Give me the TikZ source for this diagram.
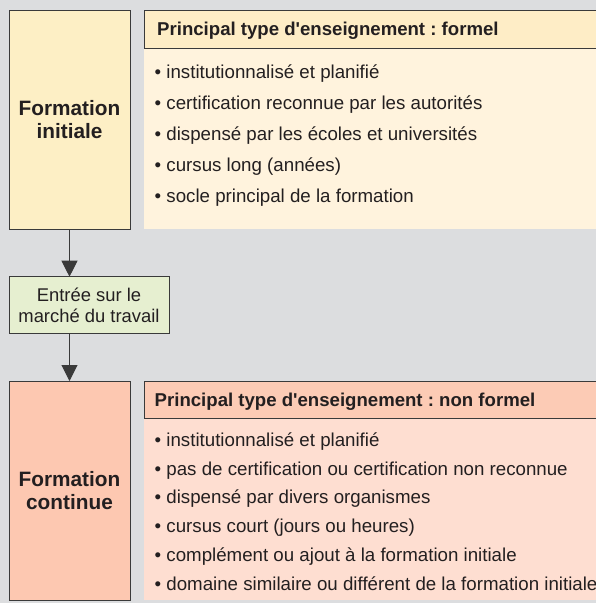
\documentclass[tikz,border=0pt]{standalone}
\usepackage{fontspec}
\setmainfont{Liberation Sans}
\usetikzlibrary{arrows.meta}
\frenchspacing
\definecolor{bg}{HTML}{DCDDDF}
\definecolor{edge}{HTML}{3A3A3A}
\definecolor{txt}{HTML}{231F20}
\definecolor{yleft}{HTML}{FDEFC5}
\definecolor{yhead}{HTML}{FEEDC6}
\definecolor{ybody}{HTML}{FFF3DD}
\definecolor{gfill}{HTML}{E6EFD0}
\definecolor{rleft}{HTML}{FDC8B1}
\definecolor{rhead}{HTML}{FCCBB5}
\definecolor{rbody}{HTML}{FEDED1}
\tikzset{
  boxstyle/.style={draw=edge, line width=1pt, inner sep=0pt, outer sep=0pt, text=txt, align=center},
  bigtitle/.style={font=\bfseries\fontsize{20.8}{23}\selectfont},
  panelbody/.style={inner sep=0pt, outer sep=0pt, anchor=north west, minimum width=470pt},
  panelhead/.style={draw=edge, line width=1pt, inner sep=0pt, outer sep=0pt, anchor=north west, minimum width=470pt, minimum height=37.3pt},
  headtext/.style={anchor=base west, inner sep=0pt, text=txt, font=\bfseries\fontsize{18.6}{22}\selectfont},
  itemtext/.style={anchor=base west, inner sep=0pt, text=txt, font=\fontsize{18.7}{22}\selectfont},
  arr/.style={draw=edge, line width=1pt, -{Triangle[length=16pt,width=16pt]}}
}
\begin{document}
\begin{tikzpicture}[x=1pt,y=-1pt]
\useasboundingbox (0,0) rectangle (596,603);
\fill[bg] (0,0) rectangle (596,603);

% --- top block
\node[boxstyle, fill=yleft, bigtitle, minimum width=121pt, minimum height=218.3pt] (fi) at (69.5,119.85) {Formation\\initiale};
\node[panelbody, fill=ybody, minimum height=181pt] (fb) at (144,48) {};
\node[panelhead, fill=yhead] (fh) at (144,10.7) {};
\node[headtext] (fht) at (157,35) {Principal type d\textquotesingle enseignement : formel};
\node[itemtext] (a1) at (154.5,78.3) {• institutionnalisé et planifié};
\node[itemtext] (a2) at (154.5,109.4) {• certification reconnue par les autorités};
\node[itemtext] (a3) at (154.5,140.5) {• dispensé par les écoles et universités};
\node[itemtext] (a4) at (154.5,171.3) {• cursus long (années)};
\node[itemtext] (a5) at (154.5,202.2) {• socle principal de la formation};

% --- middle
\node[boxstyle, fill=gfill, font=\fontsize{18.4}{21}\selectfont, minimum width=160pt, minimum height=56.3pt] (ent) at (89,304.85) {Entrée sur le\\marché du travail};

% --- bottom block
\node[boxstyle, fill=rleft, bigtitle, minimum width=121pt, minimum height=219pt] (fc) at (69.5,490.5) {Formation\\continue};
\node[panelbody, fill=rbody, minimum height=180.5pt] (cb) at (144,419) {};
\node[panelhead, fill=rhead] (ch) at (144,381.5) {};
\node[headtext] (cht) at (154.5,406.5) {Principal type d\textquotesingle enseignement : non formel};
\node[itemtext] (b1) at (154.5,446) {• institutionnalisé et planifié};
\node[itemtext] (b2) at (154.5,475) {• pas de certification ou certification non reconnue};
\node[itemtext] (b3) at (154.5,503.5) {• dispensé par divers organismes};
\node[itemtext] (b4) at (154.5,532.5) {• cursus court (jours ou heures)};
\node[itemtext] (b5) at (154.5,561.5) {• complément ou ajout à la formation initiale};
\node[itemtext] (b6) at (154.5,590) {• domaine similaire ou différent de la formation initiale};

% --- connectors
\draw[arr] (fi.south) -- (fi.south |- ent.north);
\draw[arr] (fi.south |- ent.south) -- (fc.north);
\end{tikzpicture}
\end{document}
